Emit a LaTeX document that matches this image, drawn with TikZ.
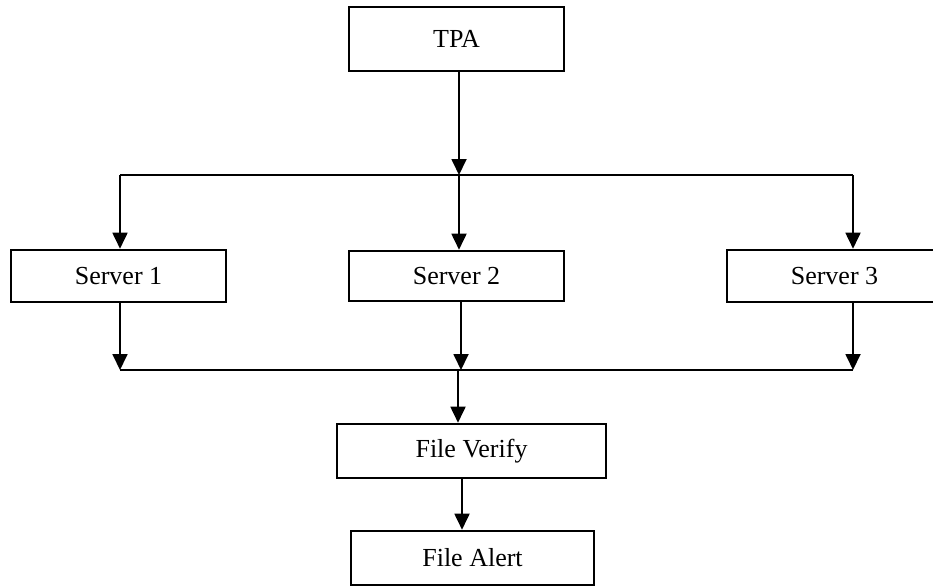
\documentclass[tikz,border=0pt]{standalone}
\usepackage{fontspec}
\setmainfont{Liberation Serif}
\usetikzlibrary{arrows.meta}
\begin{document}
\begin{tikzpicture}[x=1pt,y=-1pt,
  box/.style={draw=black,line width=2.6pt,fill=white,inner sep=0pt,font=\fontsize{26}{30}\selectfont},
  conn/.style={draw=black,line width=1.8pt},
  arr/.style={conn,-{Triangle[width=15pt,length=16pt]}}]
\useasboundingbox (0,0) rectangle (933,586);
\node[box,minimum width=215pt,minimum height=64pt] (tpa) at (456.5,39) {TPA};
\node[box,minimum width=215pt,minimum height=52pt] (s1) at (118.5,276) {Server 1};
\node[box,minimum width=215pt,minimum height=50pt] (s2) at (456.5,276) {Server 2};
\node[box,minimum width=245pt,minimum height=52pt] (s3) at (849.5,276) {\makebox[215pt]{Server 3}\hspace*{30pt}};
\node[box,minimum width=269pt,minimum height=54pt] (fv) at (471.5,451) {File Verify};
\node[box,minimum width=243pt,minimum height=54pt] (fa) at (472.5,558) {File Alert};
\coordinate (tl) at (120,175);
\coordinate (tm) at (459,175);
\coordinate (tr) at (853,175);
\coordinate (bl) at (120,370);
\coordinate (bm) at (458,370);
\coordinate (br) at (853,370);
\draw[conn] (tl) -- (tr);
\draw[conn] (bl) -- (br);
\draw[arr] (tpa.south -| tm) -- (tm);
\draw[arr] (tl) -- (tl |- s1.north);
\draw[arr] (tm) -- (tm |- s2.north);
\draw[arr] (tr) -- (tr |- s3.north);
\draw[arr] (s1.south -| bl) -- (bl);
\draw[arr] ([xshift=3pt]s2.south -| bm) -- ([xshift=3pt]bm);
\draw[arr] (s3.south -| br) -- (br);
\draw[arr] (bm) -- (bm |- fv.north);
\draw[arr] ([xshift=4pt]fv.south -| bm) -- ([xshift=4pt]bm |- fa.north);
\end{tikzpicture}
\end{document}
